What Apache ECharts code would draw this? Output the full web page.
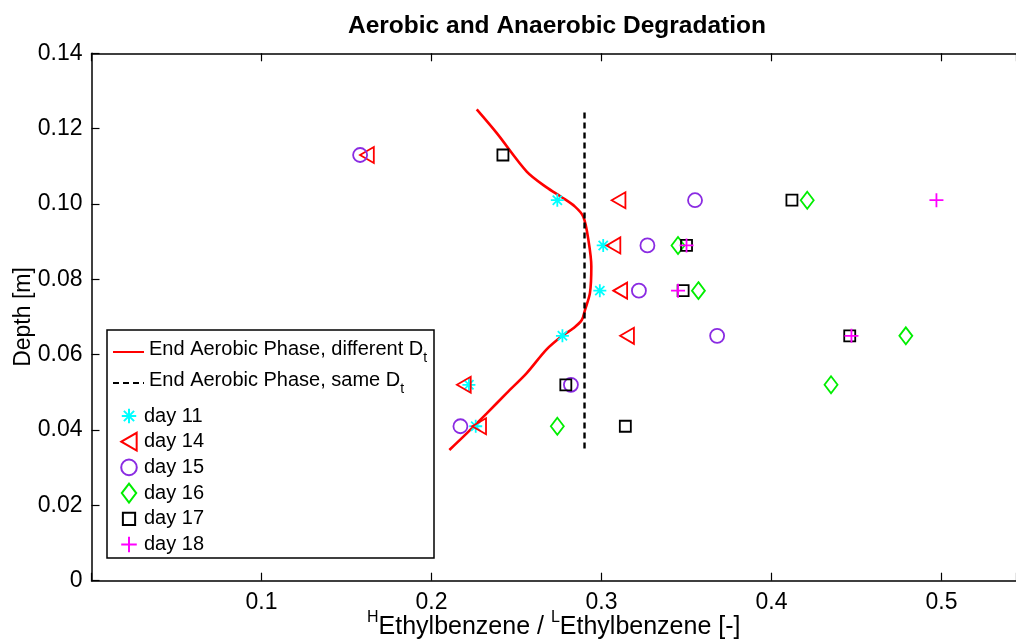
<!DOCTYPE html>
<html>
<head>
<meta charset="utf-8">
<script src="https://cdn.jsdelivr.net/npm/echarts@6/dist/echarts.min.js"></script>
<style>
  html, body { margin: 0; padding: 0; background: #fff; }
  #chart { width: 1016px; height: 641px; }
</style>
</head>
<body>
<div id="chart"></div>
<script>
// Sampling depths [m], shared by every day
const depths = [0.113, 0.101, 0.089, 0.077, 0.065, 0.052, 0.041];

// Isotope ratio H/L Ethylbenzene per day (null = not measured at that depth)
const day11 = [null, 0.274, 0.301, 0.299, 0.277, 0.222, 0.226];
const day14 = [0.162, 0.310, 0.307, 0.311, 0.315, 0.219, 0.228];
const day15 = [0.158, 0.355, 0.327, 0.322, 0.368, 0.282, 0.217];
const day16 = [null, 0.421, 0.345, 0.357, 0.479, 0.435, 0.274];
const day17 = [0.242, 0.412, 0.350, 0.348, 0.446, 0.279, 0.314];
const day18 = [null, 0.497, 0.350, 0.345, 0.447, null, null];

// Modelled ratio at the end of the aerobic phase, depth-dependent Dt
const curveX = [0.2266, 0.2384, 0.2560, 0.2677, 0.2766, 0.2844, 0.2893, 0.2923, 0.2940,
                0.2932, 0.2903, 0.2884, 0.2834, 0.2775, 0.2677, 0.2560, 0.2442, 0.2325, 0.2207, 0.2105];
const curveY = [0.1251, 0.1188, 0.1086, 0.1044, 0.1018, 0.0993, 0.0966, 0.0904, 0.0834,
                0.0764, 0.0719, 0.0692, 0.0670, 0.0652, 0.0614, 0.0551, 0.0498, 0.0444, 0.0391, 0.0347];

// Same Dt everywhere: constant ratio over the depth range
const sameDtX = [0.29, 0.29];
const sameDtY = [0.0351, 0.1251];

// Axis ticks
const xTicks = [0.1, 0.2, 0.3, 0.4, 0.5];
const yTicks = [0, 0.02, 0.04, 0.06, 0.08, 0.10, 0.12, 0.14];

const FONT = '"Liberation Sans", Arial, Helvetica, sans-serif';

const pairs = (xs, ys) => xs.map((x, i) => [x, ys[i]]).filter(p => p[0] !== null);

// Outline marker shapes, all drawn inside the same 18x18 frame so that
// plot markers and legend icons share one scale
const FRAME = 'M-9,-9M9,9';
const SYM = {
  asterisk: 'path://' + FRAME + 'M0,-6.5L0,6.5M-6.5,0L6.5,0M-4.6,-4.6L4.6,4.6M-4.6,4.6L4.6,-4.6',
  triLeft:  'path://' + FRAME + 'M-6.9,0L6.9,-8L6.9,8Z',
  circle:   'path://' + FRAME + 'M-7,0A7,7,0,1,0,7,0A7,7,0,1,0,-7,0Z',
  diamond:  'path://' + FRAME + 'M0,-8.5L6.5,0L0,8.5L-6.5,0Z',
  square:   'path://' + FRAME + 'M-5.5,-5.5L5.5,-5.5L5.5,5.5L-5.5,5.5Z',
  plus:     'path://' + FRAME + 'M0,-7L0,7M-7,0L7,0'
};

function scatter(name, xs, symbol, color) {
  return {
    name: name,
    type: 'scatter',
    data: pairs(xs, depths),
    symbol: symbol,
    symbolSize: 18,
    symbolKeepAspect: true,
    itemStyle: { color: 'rgba(0,0,0,0)', borderColor: color, borderWidth: 1.8, opacity: 1 },
    emphasis: { disabled: true },
    z: 3
  };
}

const chart = echarts.init(document.getElementById('chart'), null, { renderer: 'canvas' });

const axisCommon = {
  type: 'value',
  axisLine: { show: true, onZero: false, lineStyle: { color: '#000', width: 1.5 } },
  axisTick: { show: true, inside: true, length: 8, lineStyle: { color: '#000', width: 1.2 } },
  splitLine: { show: false }
};

const isTick = (v, list) => list.some(t => Math.abs(t - v) < 1e-9);

// right edge of the window sits at this x value
const X_MAX = 0.5438;

const lineLegendText = {
  color: '#000',
  rich: {
    n: { fontFamily: FONT, fontSize: 20, color: '#000', lineHeight: 26, verticalAlign: 'top' },
    sub: { fontFamily: FONT, fontSize: 14, color: '#000', lineHeight: 26, verticalAlign: 'bottom' }
  }
};

chart.setOption({
  animation: false,
  backgroundColor: '#fff',
  textStyle: { fontFamily: FONT },
  title: {
    text: 'Aerobic and Anaerobic Degradation',
    left: 348, top: 14, padding: 0,
    textStyle: { fontFamily: FONT, fontWeight: 'bold', fontSize: 24.5, color: '#000' }
  },
  grid: {
    left: 91.5, right: 0, top: 53.3, bottom: 60.3,
    containLabel: false, outerBoundsMode: 'none'
  },
  xAxis: [
    Object.assign({}, axisCommon, {
      position: 'bottom', min: 0, max: X_MAX, interval: 0.1,
      axisLabel: {
        fontFamily: FONT, fontSize: 23, color: '#000', margin: 10,
        formatter: v => isTick(v, xTicks) ? v.toFixed(1) : ''
      },
      name: '{sup|H}{n|Ethylbenzene / }{sup|L}{n|Ethylbenzene [-]}',
      nameLocation: 'middle', nameGap: 29, nameMoveOverlap: false,
      nameTextStyle: {
        color: '#000',
        rich: {
          n: { fontFamily: FONT, fontSize: 25, color: '#000', lineHeight: 30, verticalAlign: 'bottom' },
          sup: { fontFamily: FONT, fontSize: 16, color: '#000', lineHeight: 30, verticalAlign: 'top' }
        }
      }
    }),
    Object.assign({}, axisCommon, {
      position: 'top', min: 0, max: X_MAX, interval: 0.1,
      axisLabel: { show: false }
    })
  ],
  yAxis: [
    Object.assign({}, axisCommon, {
      position: 'left', min: 0, max: 0.14, interval: 0.02,
      axisLabel: {
        fontFamily: FONT, fontSize: 23, color: '#000', margin: 9,
        formatter: v => isTick(v, yTicks) ? (v === 0 ? '0' : v.toFixed(2)) : ''
      },
      name: 'Depth [m]',
      nameLocation: 'middle', nameGap: 56, nameRotate: 90, nameMoveOverlap: false,
      nameTextStyle: { fontFamily: FONT, fontSize: 23, color: '#000' }
    })
  ],
  legend: [
    {
      data: ['End Aerobic Phase, different D_t'],
      left: 112, top: 339, padding: 0, orient: 'vertical',
      itemWidth: 31, itemHeight: 14, itemGap: 0, itemTextGap: 3, selectedMode: false,
      itemStyle: { opacity: 0 },
      formatter: n => '{n|' + n.replace('D_t', 'D') + '}{sub|t}',
      textStyle: lineLegendText
    },
    {
      data: ['End Aerobic Phase, same D_t'],
      left: 112, top: 370, padding: 0, orient: 'vertical',
      itemWidth: 31, itemHeight: 14, itemGap: 0, itemTextGap: 3, selectedMode: false,
      itemStyle: { opacity: 0 },
      formatter: n => '{n|' + n.replace('D_t', 'D') + '}{sub|t}',
      textStyle: lineLegendText
    },
    {
      data: ['day 11', 'day 14', 'day 15', 'day 16', 'day 17', 'day 18'],
      left: 118, top: 405, padding: 0, orient: 'vertical',
      itemWidth: 20, itemHeight: 20, itemGap: 3.7, itemTextGap: 9, selectedMode: false,
      textStyle: { fontFamily: FONT, fontSize: 20, color: '#000' }
    }
  ],
  graphic: [{
    type: 'rect', z: 1,
    shape: { x: 107, y: 330, width: 327, height: 228 },
    style: { fill: '#fff', stroke: '#000', lineWidth: 1.5 }
  }],
  series: [
    {
      name: 'End Aerobic Phase, different D_t',
      type: 'line', data: pairs(curveX, curveY), symbol: 'none', smooth: 0.3,
      lineStyle: { color: '#ff0000', width: 2.6 }, itemStyle: { color: '#ff0000' },
      emphasis: { disabled: true }, z: 2
    },
    {
      name: 'End Aerobic Phase, same D_t',
      type: 'line', data: pairs(sameDtX, sameDtY), symbol: 'none',
      lineStyle: { color: '#000', width: 2.4, type: [6, 4] }, itemStyle: { color: '#000' },
      emphasis: { disabled: true }, z: 2
    },
    scatter('day 11', day11, SYM.asterisk, '#00ffff'),
    scatter('day 14', day14, SYM.triLeft, '#ff0000'),
    scatter('day 15', day15, SYM.circle, '#8a2be2'),
    scatter('day 16', day16, SYM.diamond, '#00ee00'),
    scatter('day 17', day17, SYM.square, '#000000'),
    scatter('day 18', day18, SYM.plus, '#ff00ff')
  ]
});
</script>
</body>
</html>
